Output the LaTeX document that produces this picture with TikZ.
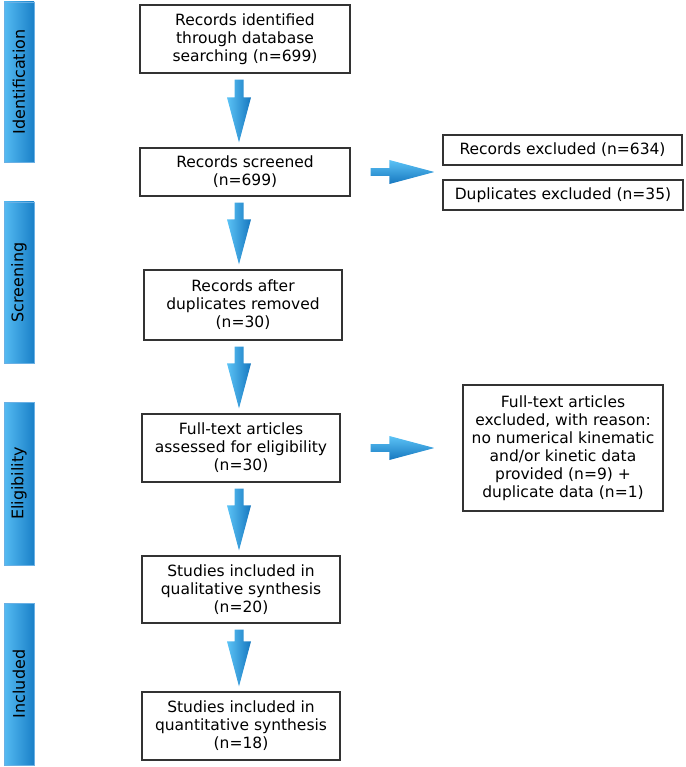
\documentclass[tikz,border=0pt]{standalone}
\usepackage{fontspec}
\setmainfont{DejaVu Sans}
\usepackage{tikz}
\usetikzlibrary{calc}
\definecolor{arrlight}{HTML}{5CC3F6}
\definecolor{arrdark}{HTML}{1677BF}
\definecolor{barlight}{HTML}{55BBF2}
\definecolor{bardark}{HTML}{1A80C8}
\definecolor{barline}{HTML}{6AB0E4}
\tikzset{box/.style={draw=black!80,line width=1.2pt,fill=white,inner sep=0pt,align=center,font=\fontsize{15.5}{18}\selectfont}}
\tikzset{phase/.style={draw=barline,line width=0.8pt,left color=barlight,right color=bardark,inner sep=0pt,minimum width=30,minimum height=162,font=\fontsize{16}{18}\selectfont}}
\tikzset{arrdown/.style={left color=arrlight,right color=arrdark}}
\tikzset{arrright/.style={top color=arrlight,bottom color=arrdark}}
% down arrow on the common axis, from box #1 to box #2
\newcommand{\downarr}[2]{%
  \shade[arrdown] let \p1=(#1.south), \p2=(#2.north), \p3=(axis) in
    (\x3-4.5pt,\y1-6pt) -- (\x3+4.5pt,\y1-6pt) -- (\x3+4.5pt,\y2+50pt)
    -- (\x3+12pt,\y2+50pt) -- (\x3,\y2+5pt) -- (\x3-12pt,\y2+50pt)
    -- (\x3-4.5pt,\y2+50pt) -- cycle;}
% right arrow, gaps #3 and #4 to the boxes
\newcommand{\rightarr}[4]{%
  \shade[arrright] let \p1=(#1.east), \p2=(#2.west) in
    (\x1+#3pt,\y1+3.8pt) -- (\x2-#4pt-45pt,\y1+3.8pt) -- (\x2-#4pt-45pt,\y1+12pt)
    -- (\x2-#4pt,\y1) -- (\x2-#4pt-45pt,\y1-12pt) -- (\x2-#4pt-45pt,\y1-3.8pt)
    -- (\x1+#3pt,\y1-3.8pt) -- cycle;}

\begin{document}
\begin{tikzpicture}[x=1pt,y=-1pt]
  \useasboundingbox (0,0) rectangle (685,767);
  \coordinate (axis) at (239,0);
  % phases
  \node[phase,minimum height=160] (ident) at (19,82) {\rotatebox{90}{Identification}};
  \node[phase,minimum height=161] (screen) at (19,282.5) {\rotatebox{90}{Screening}};
  \node[phase,minimum height=163] (elig) at (19,483.5) {\rotatebox{90}{Eligibility}};
  \node[phase] (incl) at (19,684) {\rotatebox{90}{Included}};
  % main column
  \node[box,minimum width=210,minimum height=68] (found) at (245,39)
    {Records identified\\through database\\searching (n=699)};
  \node[box,minimum width=210,minimum height=48] (screened) at (245,172)
    {Records screened\\(n=699)};
  \node[box,minimum width=198,minimum height=70] (nodup) at (243,305)
    {Records after\\duplicates removed\\(n=30)};
  \node[box,minimum width=198,minimum height=68] (fulltext) at (241,448)
    {Full-text articles\\assessed for eligibility\\(n=30)};
  \node[box,minimum width=198,minimum height=67] (quali) at (241,589.5)
    {Studies included in\\qualitative synthesis\\(n=20)};
  \node[box,minimum width=198,minimum height=68] (quanti) at (241,726)
    {Studies included in\\quantitative synthesis\\(n=18)};
  % exclusions
  \node[box,minimum width=239,minimum height=30] (recexcl) at (562.5,150)
    {Records excluded (n=634)};
  \node[box,minimum width=240,minimum height=30] (dupexcl) at (563,195)
    {Duplicates excluded (n=35)};
  \node[box,minimum width=200,minimum height=126] (ftexcl) at (563,448)
    {Full-text articles\\excluded, with reason:\\no numerical kinematic\\and/or kinetic data\\provided (n=9) +\\duplicate data (n=1)};
  % arrows
  \downarr{found}{screened}
  \downarr{screened}{nodup}
  \downarr{nodup}{fulltext}
  \downarr{fulltext}{quali}
  \downarr{quali}{quanti}
  \rightarr{screened}{recexcl}{20}{8}
  \rightarr{fulltext}{ftexcl}{30}{28}
\end{tikzpicture}
\end{document}
